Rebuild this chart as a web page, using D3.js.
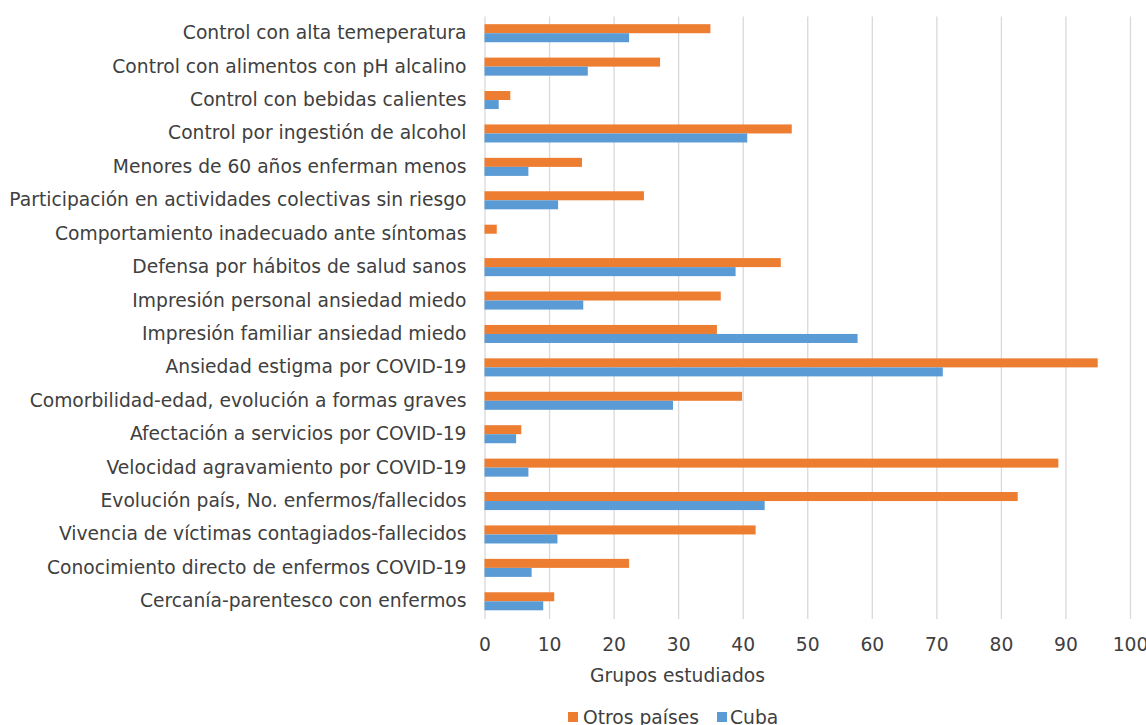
<!DOCTYPE html>
<html>
<head>
<meta charset="utf-8">
<script src="https://cdn.jsdelivr.net/npm/d3@7"></script>
<style>
  html, body { margin: 0; padding: 0; background: #fff; }
  svg { display: block; }
  text { font-family: "DejaVu Sans", Verdana, sans-serif; fill: #404040; }
</style>
</head>
<body>
<svg id="chart" width="1146" height="725"></svg>
<script>
const categories = [
  "Control con alta temeperatura",
  "Control con alimentos con pH alcalino",
  "Control con bebidas calientes",
  "Control por ingestión de alcohol",
  "Menores de 60 años enferman menos",
  "Participación en actividades colectivas sin riesgo",
  "Comportamiento inadecuado ante síntomas",
  "Defensa por hábitos de salud sanos",
  "Impresión personal ansiedad miedo",
  "Impresión familiar ansiedad miedo",
  "Ansiedad estigma por COVID-19",
  "Comorbilidad-edad, evolución a formas graves",
  "Afectación a servicios por COVID-19",
  "Velocidad agravamiento por COVID-19",
  "Evolución país, No. enfermos/fallecidos",
  "Vivencia de víctimas contagiados-fallecidos",
  "Conocimiento directo de enfermos COVID-19",
  "Cercanía-parentesco con enfermos"
];
const otrosPaises = [35.0, 27.2, 4.0, 47.6, 15.1, 24.7, 1.9, 45.9, 36.6, 36.0, 95.0, 39.9, 5.7, 88.9, 82.6, 42.0, 22.4, 10.8];
const cuba        = [22.4, 16.0, 2.2, 40.7, 6.8, 11.4, 0, 38.9, 15.3, 57.8, 71.0, 29.2, 4.9, 6.8, 43.4, 11.3, 7.3, 9.1];
const seriesNames = ["Otros países", "Cuba"];
const xTicks = [0, 10, 20, 30, 40, 50, 60, 70, 80, 90, 100];
const axisTitle = "Grupos estudiados";

const colors = { "Otros países": "#ED7D31", "Cuba": "#5B9BD5" };
const FS = 18.7;
const svg = d3.select("#chart");
const mLeft = 484.5, mRight = 1130, mTop = 16.5, mBottom = 618;

const x = d3.scaleLinear().domain([0, 100]).range([mLeft, mRight]);
const y = d3.scaleBand().domain(categories).range([mTop, mBottom]).paddingInner(0.46).paddingOuter(0.23);
const ySub = d3.scaleBand().domain(seriesNames).range([0, y.bandwidth()]);

// gridlines
svg.append("g")
  .attr("transform", `translate(0,${mBottom + 1})`)
  .call(d3.axisBottom(x).tickValues(xTicks).tickSize(-(mBottom + 1 - mTop)).tickFormat(""))
  .call(g => g.select(".domain").remove())
  .call(g => g.selectAll("line").attr("stroke", "#D9D9D9").attr("stroke-width", 1.3));

// bars
const data = categories.map((c, i) => ({ cat: c, vals: [
  { s: "Otros países", v: otrosPaises[i] },
  { s: "Cuba", v: cuba[i] }
]}));
const grp = svg.append("g").selectAll("g").data(data).join("g")
  .attr("transform", d => `translate(0,${y(d.cat)})`);
grp.selectAll("rect").data(d => d.vals).join("rect")
  .attr("x", x(0))
  .attr("y", d => ySub(d.s))
  .attr("width", d => x(d.v) - x(0))
  .attr("height", ySub.bandwidth())
  .attr("fill", d => colors[d.s]);

// y labels
svg.append("g")
  .attr("transform", `translate(${mLeft},0)`)
  .call(d3.axisLeft(y).tickSize(0).tickPadding(18))
  .call(g => g.select(".domain").remove())
  .call(g => g.selectAll("text").attr("font-size", FS).style("font-family", "DejaVu Sans, Verdana, sans-serif").attr("fill", "#404040"));

// x tick labels
svg.append("g")
  .attr("transform", `translate(0,${mBottom})`)
  .call(d3.axisBottom(x).tickValues(xTicks).tickSize(0).tickPadding(20))
  .call(g => g.select(".domain").remove())
  .call(g => g.selectAll("text").attr("font-size", FS).style("font-family", "DejaVu Sans, Verdana, sans-serif").attr("fill", "#404040"));

// axis title
svg.append("text")
  .attr("x", 677.5).attr("y", 681.5)
  .attr("text-anchor", "middle")
  .attr("font-size", FS)
  .text(axisTitle);

// legend
const legendItems = [
  { s: "Otros países", sx: 568, tx: 583 },
  { s: "Cuba", sx: 717, tx: 730 }
];
const lg = svg.append("g");
legendItems.forEach(it => {
  lg.append("rect").attr("x", it.sx).attr("y", 712).attr("width", 10).attr("height", 10).attr("fill", colors[it.s]);
  lg.append("text").attr("x", it.tx).attr("y", 723.5).attr("font-size", FS).text(it.s);
});
</script>
</body>
</html>
